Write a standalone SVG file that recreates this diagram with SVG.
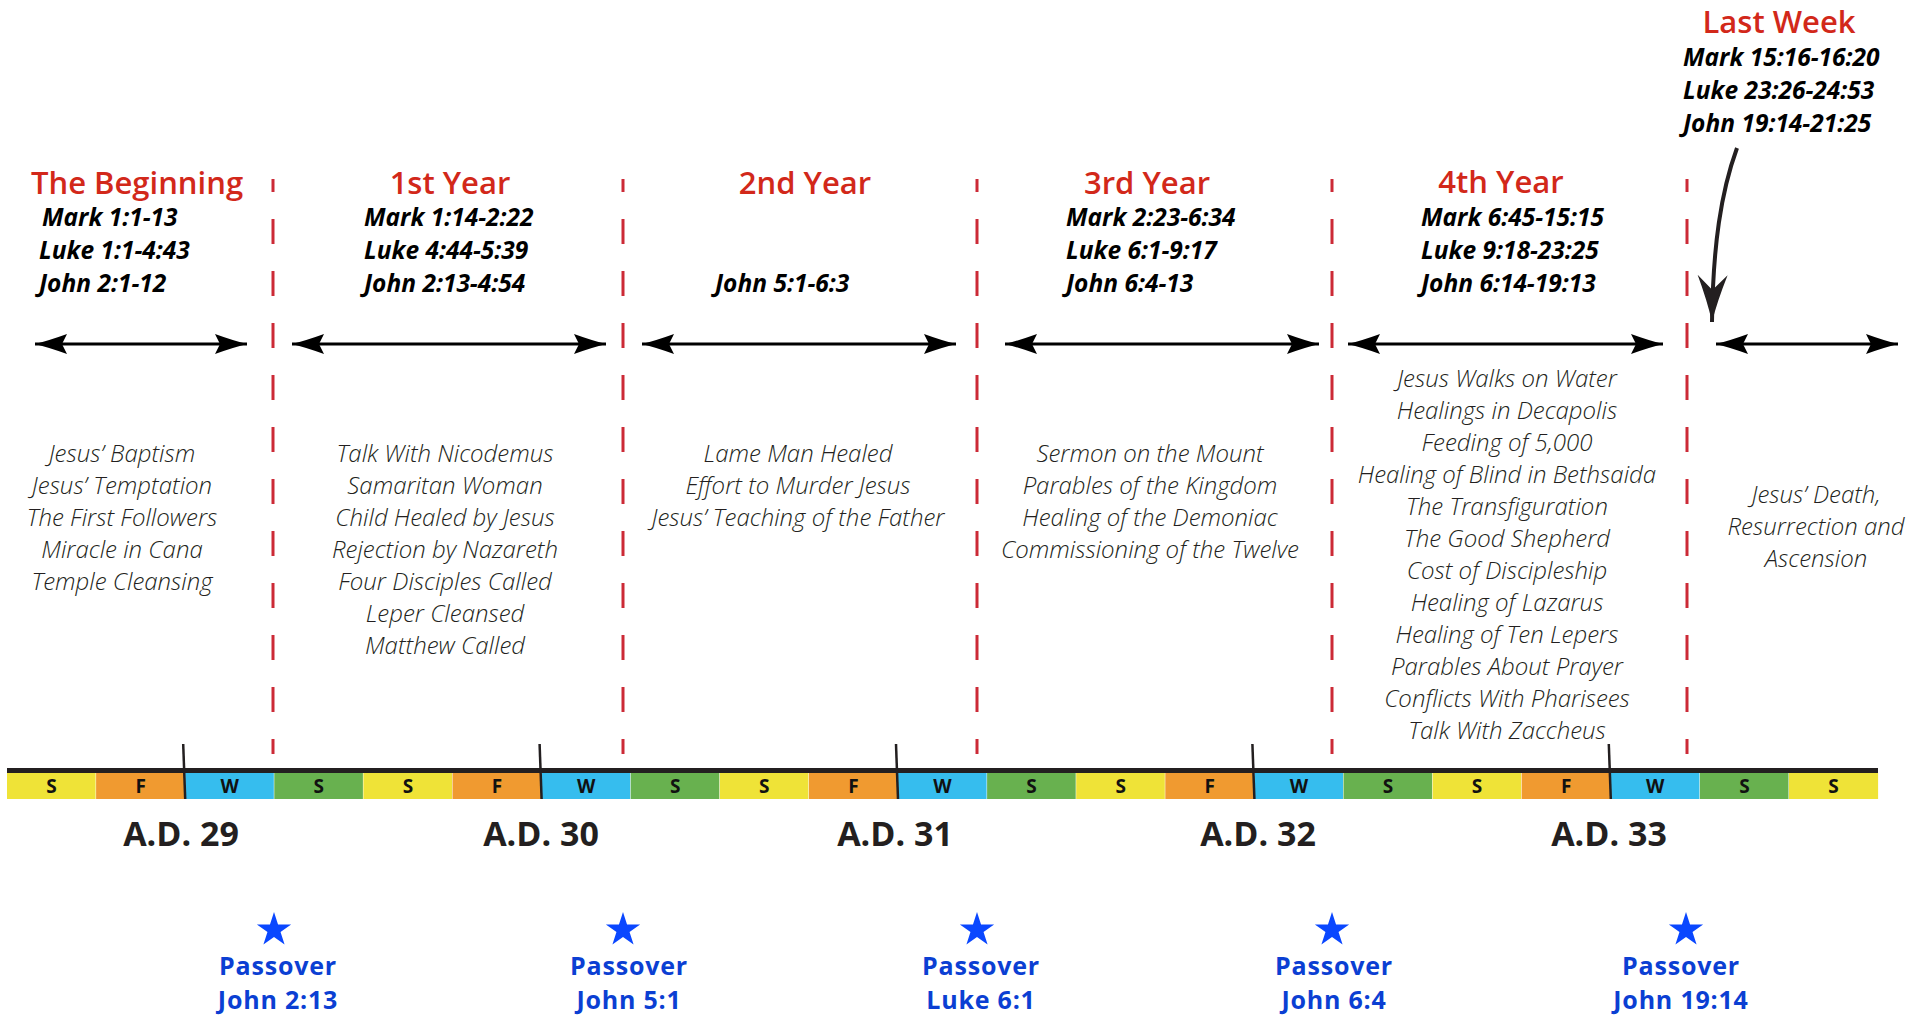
<svg xmlns="http://www.w3.org/2000/svg" width="1927" height="1016" viewBox="0 0 1927 1016">
<style>
.hdr{font-family:"Open Sans","Liberation Sans",sans-serif;font-weight:600;font-size:31px;fill:#d2281a;text-anchor:middle}
.ref{font-family:"Open Sans","Liberation Sans",sans-serif;font-weight:700;font-style:italic;font-size:24.5px;fill:#000}
.evt{font-family:"Open Sans","Liberation Sans",sans-serif;font-weight:300;font-style:italic;font-size:24px;fill:#231f20;text-anchor:middle}
.yr{font-family:"Open Sans","Liberation Sans",sans-serif;font-weight:700;font-size:34px;fill:#231f20;text-anchor:middle}
.pv{font-family:"Open Sans","Liberation Sans",sans-serif;font-weight:700;font-size:25px;letter-spacing:0.8px;fill:#0b3fd3;text-anchor:middle}
.sl{font-family:"Open Sans","Liberation Sans",sans-serif;font-weight:700;font-size:19px;fill:#111;text-anchor:middle}
.dash{stroke:#cc2a36;stroke-width:3;stroke-dasharray:25 27;stroke-dashoffset:12;fill:none}
.arr{stroke:#000;stroke-width:3;fill:none;marker-start:url(#ah);marker-end:url(#ah)}
.tick{stroke:#231f20;stroke-width:2.5}
.sy{fill:#efe337}.sf{fill:#f09a30}.sw{fill:#36bdee}.sg{fill:#68b14f}
.star{fill:#0a47ff}
</style>
<defs>
<marker id="ah" markerUnits="userSpaceOnUse" markerWidth="34" markerHeight="22" refX="32" refY="10" orient="auto-start-reverse" overflow="visible">
<path d="M32,10 Q18,6.5 0,0 L5,10 L0,20 Q18,13.5 32,10 Z" fill="#000"/>
</marker>
<marker id="ahc" markerUnits="userSpaceOnUse" markerWidth="48" markerHeight="32" refX="47" refY="15" orient="auto" overflow="visible">
<path d="M47,15 Q26,10 0,0 L15,15 L0,30 Q26,20 47,15 Z" fill="#231f20"/>
</marker>
<polygon id="st" points="0,-18 4.04,-5.56 17.12,-5.56 6.54,2.12 10.58,14.56 0,6.88 -10.58,14.56 -6.54,2.12 -17.12,-5.56 -4.04,-5.56"/>
</defs>
<rect width="1927" height="1016" fill="#fff"/>

<g id="dividers">
<line class="dash" x1="273" y1="179" x2="273" y2="754"/>
<line class="dash" x1="623" y1="179" x2="623" y2="754"/>
<line class="dash" x1="977" y1="179" x2="977" y2="754"/>
<line class="dash" x1="1332" y1="179" x2="1332" y2="754"/>
<line class="dash" x1="1687" y1="179" x2="1687" y2="754"/>
</g>

<g id="beginning">
<text class="hdr" x="137" y="194">The Beginning</text>
<text class="ref" x="42" y="226">Mark 1:1-13</text>
<text class="ref" x="39" y="259">Luke 1:1-4:43</text>
<text class="ref" x="39" y="292">John 2:1-12</text>
<text class="evt"><tspan x="122" y="462">Jesus’ Baptism</tspan><tspan x="122" y="494">Jesus’ Temptation</tspan><tspan x="122" y="526">The First Followers</tspan><tspan x="122" y="558">Miracle in Cana</tspan><tspan x="122" y="590">Temple Cleansing</tspan></text>
</g>

<g id="year1">
<text class="hdr" x="450" y="194">1st Year</text>
<text class="ref" x="364" y="226">Mark 1:14-2:22</text>
<text class="ref" x="364" y="259">Luke 4:44-5:39</text>
<text class="ref" x="364" y="292">John 2:13-4:54</text>
<text class="evt"><tspan x="445" y="462">Talk With Nicodemus</tspan><tspan x="445" y="494">Samaritan Woman</tspan><tspan x="445" y="526">Child Healed by Jesus</tspan><tspan x="445" y="558">Rejection by Nazareth</tspan><tspan x="445" y="590">Four Disciples Called</tspan><tspan x="445" y="622">Leper Cleansed</tspan><tspan x="445" y="654">Matthew Called</tspan></text>
</g>

<g id="year2">
<text class="hdr" x="805" y="194">2nd Year</text>
<text class="ref" x="715" y="292">John 5:1-6:3</text>
<text class="evt"><tspan x="798" y="462">Lame Man Healed</tspan><tspan x="798" y="494">Effort to Murder Jesus</tspan><tspan x="798" y="526">Jesus’ Teaching of the Father</tspan></text>
</g>

<g id="year3">
<text class="hdr" x="1147" y="194">3rd Year</text>
<text class="ref" x="1066" y="226">Mark 2:23-6:34</text>
<text class="ref" x="1066" y="259">Luke 6:1-9:17</text>
<text class="ref" x="1066" y="292">John 6:4-13</text>
<text class="evt"><tspan x="1150" y="462">Sermon on the Mount</tspan><tspan x="1150" y="494">Parables of the Kingdom</tspan><tspan x="1150" y="526">Healing of the Demoniac</tspan><tspan x="1150" y="558">Commissioning of the Twelve</tspan></text>
</g>

<g id="year4">
<text class="hdr" x="1501" y="193">4th Year</text>
<text class="ref" x="1421" y="226">Mark 6:45-15:15</text>
<text class="ref" x="1421" y="259">Luke 9:18-23:25</text>
<text class="ref" x="1421" y="292">John 6:14-19:13</text>
<text class="evt"><tspan x="1507" y="387">Jesus Walks on Water</tspan><tspan x="1507" y="419">Healings in Decapolis</tspan><tspan x="1507" y="451">Feeding of 5,000</tspan><tspan x="1507" y="483">Healing of Blind in Bethsaida</tspan><tspan x="1507" y="515">The Transfiguration</tspan><tspan x="1507" y="547">The Good Shepherd</tspan><tspan x="1507" y="579">Cost of Discipleship</tspan><tspan x="1507" y="611">Healing of Lazarus</tspan><tspan x="1507" y="643">Healing of Ten Lepers</tspan><tspan x="1507" y="675">Parables About Prayer</tspan><tspan x="1507" y="707">Conflicts With Pharisees</tspan><tspan x="1507" y="739">Talk With Zaccheus</tspan></text>
</g>

<g id="lastweek">
<text class="hdr" x="1779" y="33">Last Week</text>
<text class="ref" x="1683" y="66">Mark 15:16-16:20</text>
<text class="ref" x="1683" y="99">Luke 23:26-24:53</text>
<text class="ref" x="1683" y="132">John 19:14-21:25</text>
<text class="evt"><tspan x="1816" y="503">Jesus’ Death,</tspan><tspan x="1816" y="535">Resurrection and</tspan><tspan x="1816" y="567">Ascension</tspan></text>
</g>

<g id="connectors">
<line class="arr" x1="35" y1="344" x2="247" y2="344"/>
<line class="arr" x1="292" y1="344" x2="606" y2="344"/>
<line class="arr" x1="642" y1="344" x2="956" y2="344"/>
<line class="arr" x1="1005" y1="344" x2="1319" y2="344"/>
<line class="arr" x1="1348" y1="344" x2="1663" y2="344"/>
<line class="arr" x1="1716" y1="344" x2="1898" y2="344"/>
<path d="M1737,148 C1721,192 1713,245 1712,322" stroke="#231f20" stroke-width="4" fill="none" marker-end="url(#ahc)"/>
</g>

<g id="timeline">
<rect class="sy" x="7" y="773" width="88.6" height="26"/>
<rect class="sf" x="96.1" y="773" width="88.6" height="26"/>
<rect class="sw" x="185.2" y="773" width="88.6" height="26"/>
<rect class="sg" x="274.3" y="773" width="88.6" height="26"/>
<rect class="sy" x="363.4" y="773" width="88.6" height="26"/>
<rect class="sf" x="452.5" y="773" width="88.6" height="26"/>
<rect class="sw" x="541.6" y="773" width="88.6" height="26"/>
<rect class="sg" x="630.7" y="773" width="88.6" height="26"/>
<rect class="sy" x="719.8" y="773" width="88.6" height="26"/>
<rect class="sf" x="808.9" y="773" width="88.6" height="26"/>
<rect class="sw" x="898" y="773" width="88.6" height="26"/>
<rect class="sg" x="987.1" y="773" width="88.6" height="26"/>
<rect class="sy" x="1076.2" y="773" width="88.6" height="26"/>
<rect class="sf" x="1165.3" y="773" width="88.6" height="26"/>
<rect class="sw" x="1254.4" y="773" width="88.6" height="26"/>
<rect class="sg" x="1343.5" y="773" width="88.6" height="26"/>
<rect class="sy" x="1432.6" y="773" width="88.6" height="26"/>
<rect class="sf" x="1521.7" y="773" width="88.6" height="26"/>
<rect class="sw" x="1610.8" y="773" width="88.6" height="26"/>
<rect class="sg" x="1699.9" y="773" width="88.6" height="26"/>
<rect class="sy" x="1789" y="773" width="89.1" height="26"/>
<rect x="7" y="768" width="1871" height="5" fill="#231f20"/>
<text class="sl" x="51.5" y="793">S</text>
<text class="sl" x="140.6" y="793">F</text>
<text class="sl" x="229.7" y="793">W</text>
<text class="sl" x="318.8" y="793">S</text>
<text class="sl" x="407.9" y="793">S</text>
<text class="sl" x="497" y="793">F</text>
<text class="sl" x="586.1" y="793">W</text>
<text class="sl" x="675.2" y="793">S</text>
<text class="sl" x="764.3" y="793">S</text>
<text class="sl" x="853.4" y="793">F</text>
<text class="sl" x="942.5" y="793">W</text>
<text class="sl" x="1031.6" y="793">S</text>
<text class="sl" x="1120.7" y="793">S</text>
<text class="sl" x="1209.8" y="793">F</text>
<text class="sl" x="1298.9" y="793">W</text>
<text class="sl" x="1388" y="793">S</text>
<text class="sl" x="1477.1" y="793">S</text>
<text class="sl" x="1566.2" y="793">F</text>
<text class="sl" x="1655.3" y="793">W</text>
<text class="sl" x="1744.4" y="793">S</text>
<text class="sl" x="1833.5" y="793">S</text>
<line class="tick" x1="183.2" y1="744" x2="185.2" y2="799"/>
<line class="tick" x1="539.6" y1="744" x2="541.6" y2="799"/>
<line class="tick" x1="896" y1="744" x2="898" y2="799"/>
<line class="tick" x1="1252.4" y1="744" x2="1254.4" y2="799"/>
<line class="tick" x1="1608.8" y1="744" x2="1610.8" y2="799"/>
</g>

<g id="years">
<text class="yr" x="181" y="846">A.D. 29</text>
<text class="yr" x="541" y="846">A.D. 30</text>
<text class="yr" x="895" y="846">A.D. 31</text>
<text class="yr" x="1258" y="846">A.D. 32</text>
<text class="yr" x="1609" y="846">A.D. 33</text>
</g>

<g id="passover1"><use href="#st" class="star" x="274" y="930"/><text class="pv" x="278" y="975">Passover</text><text class="pv" x="278" y="1009">John 2:13</text></g>
<g id="passover2"><use href="#st" class="star" x="623" y="930"/><text class="pv" x="629" y="975">Passover</text><text class="pv" x="629" y="1009">John 5:1</text></g>
<g id="passover3"><use href="#st" class="star" x="977" y="930"/><text class="pv" x="981" y="975">Passover</text><text class="pv" x="981" y="1009">Luke 6:1</text></g>
<g id="passover4"><use href="#st" class="star" x="1332" y="930"/><text class="pv" x="1334" y="975">Passover</text><text class="pv" x="1334" y="1009">John 6:4</text></g>
<g id="passover5"><use href="#st" class="star" x="1686" y="930"/><text class="pv" x="1681" y="975">Passover</text><text class="pv" x="1681" y="1009">John 19:14</text></g>
</svg>
